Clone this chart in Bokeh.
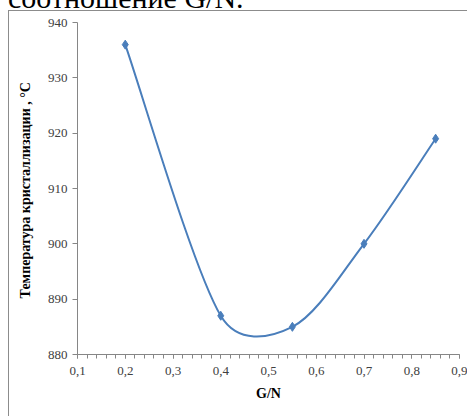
import math
from bokeh.plotting import figure
from bokeh.layouts import column
from bokeh.models import (Range1d, SingleIntervalTicker, FixedTicker, Div,
                          CustomJSTickFormatter)
from bokeh.embed import file_html
from bokeh.resources import INLINE

# ---- data ----
gn = [0.2, 0.4, 0.55, 0.7, 0.85]
temp = [936, 887, 885, 900, 919]
y_ticks = [880, 890, 900, 910, 920, 930, 940]
x_title = "G/N"
y_title = "Температура кристаллизации ,  °C"
top_text = "соотношение G/N."

XMIN, XMAX, YMIN, YMAX = 0.1, 0.9, 880, 940
FW, FH = 382.0, 332.0   # frame size in px (for smoothing in screen space)

SERIF = "Liberation Serif, Times New Roman, serif"
AX = "#868686"
LBL = "#404040"
BORDER = "#8c8c8c"

# cropped line of document text above the chart
top_div = Div(
    text=('<div style="font-family:\'Liberation Serif\', serif; font-size:30px; line-height:30px; '
          'color:black; position:relative; top:-17px; left:8px; white-space:nowrap;">'
          + top_text + '</div>'),
    width=467, height=10, margin=0, styles={"overflow": "hidden"})

p = figure(width=459, height=406, x_range=Range1d(XMIN, XMAX), y_range=Range1d(YMIN, YMAX),
           output_backend="svg", toolbar_location=None,
           min_border_left=68, min_border_right=9, min_border_top=11, min_border_bottom=63)
p.margin = (0, 0, 0, 8)
p.styles = {"border-left": "1px solid " + BORDER, "border-top": "1px solid " + BORDER}
p.outline_line_color = None
p.xgrid.visible = False
p.ygrid.visible = False
p.background_fill_color = "white"
p.border_fill_color = "white"

# x axis
p.xaxis.ticker = SingleIntervalTicker(interval=0.1, num_minor_ticks=5)
p.xaxis.formatter = CustomJSTickFormatter(code="return tick.toFixed(1).replace('.', ',');")
p.xaxis.axis_line_color = AX
p.xaxis.major_tick_line_color = AX
p.xaxis.minor_tick_line_color = AX
p.xaxis.major_tick_in = 0
p.xaxis.major_tick_out = 4
p.xaxis.minor_tick_in = 0
p.xaxis.minor_tick_out = 4
p.xaxis.major_label_text_font = SERIF
p.xaxis.major_label_text_font_size = "13px"
p.xaxis.major_label_text_color = LBL
p.xaxis.major_label_standoff = 8
p.xaxis.axis_label = x_title
p.xaxis.axis_label_text_font = SERIF
p.xaxis.axis_label_text_font_size = "14px"
p.xaxis.axis_label_text_font_style = "bold"
p.xaxis.axis_label_text_color = "black"
p.xaxis.axis_label_standoff = 8

# y axis
p.yaxis.ticker = FixedTicker(ticks=y_ticks)
p.yaxis.axis_line_color = AX
p.yaxis.major_tick_line_color = AX
p.yaxis.minor_tick_line_color = None
p.yaxis.major_tick_in = 0
p.yaxis.major_tick_out = 5
p.yaxis.major_label_text_font = SERIF
p.yaxis.major_label_text_font_size = "13px"
p.yaxis.major_label_text_color = LBL
p.yaxis.major_label_standoff = 5
p.yaxis.axis_label = y_title
p.yaxis.axis_label_text_font = SERIF
p.yaxis.axis_label_text_font_size = "14px"
p.yaxis.axis_label_text_font_style = "bold"
p.yaxis.axis_label_text_color = "black"
p.yaxis.axis_label_standoff = 12

# ---- smooth line (Bezier segments through the data points, Excel-like) ----
def to_px(x, y):
    return ((x - XMIN) / (XMAX - XMIN) * FW, (y - YMIN) / (YMAX - YMIN) * FH)

def to_data(px, py):
    return (px / FW * (XMAX - XMIN) + XMIN, py / FH * (YMAX - YMIN) + YMIN)

P = [to_px(x, y) for x, y in zip(gn, temp)]
n = len(P)

def dist(a, b):
    return math.hypot(a[0] - b[0], a[1] - b[1])

x0s, y0s, x1s, y1s, cx0s, cy0s, cx1s, cy1s = ([] for _ in range(8))
for i in range(n - 1):
    pa = P[i - 1] if i > 0 else P[i]
    pb, pc = P[i], P[i + 1]
    pd = P[i + 2] if i + 2 < n else P[i + 1]
    dab, dbc, dcd = dist(pa, pb), dist(pb, pc), dist(pc, pd)
    f1 = min(0.5 * dbc / (dab + dbc), 1 / 6)
    f2 = min(0.5 * dbc / (dbc + dcd), 1 / 6)
    c1 = (pb[0] + (pc[0] - pa[0]) * f1, pb[1] + (pc[1] - pa[1]) * f1)
    c2 = (pc[0] - (pd[0] - pb[0]) * f2, pc[1] - (pd[1] - pb[1]) * f2)
    a = to_data(*pb); b = to_data(*pc); k1 = to_data(*c1); k2 = to_data(*c2)
    x0s.append(a[0]); y0s.append(a[1]); x1s.append(b[0]); y1s.append(b[1])
    cx0s.append(k1[0]); cy0s.append(k1[1]); cx1s.append(k2[0]); cy1s.append(k2[1])

BLUE = "#4A7EBB"
p.bezier(x0=x0s, y0=y0s, x1=x1s, y1=y1s, cx0=cx0s, cy0=cy0s, cx1=cx1s, cy1=cy1s,
         line_color=BLUE, line_width=2)
p.scatter(gn, temp, marker="diamond", size=9, fill_color=BLUE, line_color=BLUE)

root = column(top_div, p, spacing=0)
open("out.html", "w").write(file_html(root, INLINE))
